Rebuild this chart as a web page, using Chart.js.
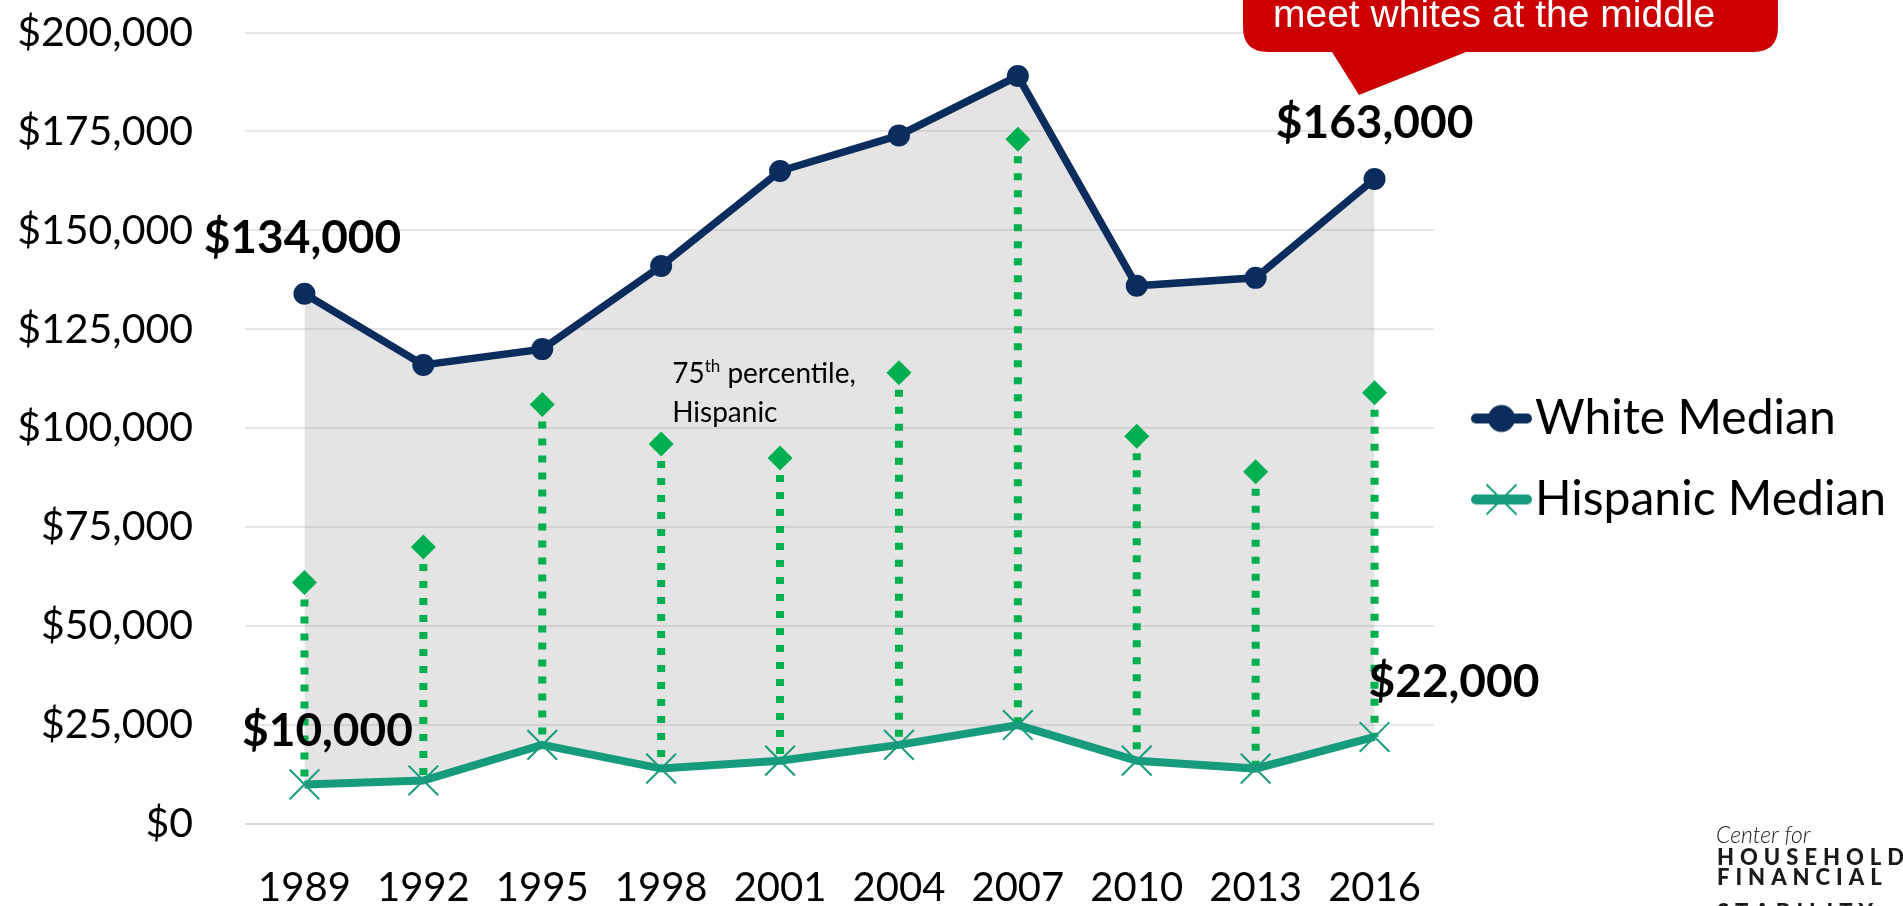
<!DOCTYPE html>
<html>
<head>
<meta charset="utf-8">
<script src="https://cdn.jsdelivr.net/npm/chart.js@4.4.1/dist/chart.umd.min.js"></script>
<style>
html,body{margin:0;padding:0;background:#fff;overflow:hidden}
#wrap{position:relative;width:1903px;height:906px}
canvas{display:block}
</style>
</head>
<body>
<div id="wrap"><canvas id="c" width="1903" height="906"></canvas></div>
<script>
// ---- data ----
const years = ['1989','1992','1995','1998','2001','2004','2007','2010','2013','2016'];
const whiteMedian    = [134000,116000,120000,141000,165000,174000,189000,136000,138000,163000];
const hispanicMedian = [10000,11000,20000,14000,16000,20000,25000,16000,14000,22000];
const hispanic75th   = [61000,70000,106000,96000,92500,114000,173000,98000,89000,109000];
const seriesNames = ['White Median','Hispanic Median','75th percentile, Hispanic'];
const yMin = 0, yMax = 200000, yStep = 25000;
const calloutText = 'meet whites at the middle';
const logoLines = ['Center for','HOUSEHOLD','FINANCIAL','STABILITY'];

// ---- style ----
const NAVY = '#0B2D5E', TEAL = '#179B7D', GREEN = '#00B050', RED = '#CC0000';
const fmt = v => '$' + v.toLocaleString('en-US');

// legend geometry
const PLOT_RIGHT = 1434;
const LEG_FONT = 48, LEG_PAD = 33, LEG_PSW = 44;
const legendX = PLOT_RIGHT + LEG_PAD;
const iconCenter = legendX + LEG_PSW / 2;
const ICON_W = 2 * (1532 - iconCenter), ICON_H = 48;

function makeIcon(kind){
  const c = document.createElement('canvas');
  c.width = Math.ceil(ICON_W); c.height = ICON_H;
  const g = c.getContext('2d');
  const left = iconCenter - c.width / 2;
  const cy = ICON_H / 2;
  const x0 = 1476 - left, x1 = 1527 - left, mx = 1501.5 - left;
  g.lineCap = 'round';
  g.lineWidth = 10;
  g.strokeStyle = kind === 0 ? NAVY : TEAL;
  g.beginPath(); g.moveTo(x0, cy); g.lineTo(x1, cy); g.stroke();
  if (kind === 0){
    g.fillStyle = NAVY; g.beginPath(); g.arc(mx, cy, 13.5, 0, Math.PI*2); g.fill();
  } else {
    g.lineWidth = 2; g.lineCap = 'butt';
    g.beginPath(); g.moveTo(mx-15, cy-15); g.lineTo(mx+15, cy+15); g.moveTo(mx-15, cy+15); g.lineTo(mx+15, cy-15); g.stroke();
  }
  return c;
}
const icons = [makeIcon(0), makeIcon(1)];

const mctx = document.createElement('canvas').getContext('2d');
mctx.font = 'normal ' + LEG_FONT + 'px Lato';
const maxLegW = Math.max(mctx.measureText(seriesNames[0]).width, mctx.measureText(seriesNames[1]).width);
const legendWidth = LEG_PAD + LEG_PSW + LEG_FONT/2 + maxLegW + 10;
const rightPad = Math.max(0, 1903 - PLOT_RIGHT - legendWidth);

const stems = {
  id: 'stems',
  beforeDatasetsDraw(chart){
    const {ctx, scales:{x, y}} = chart;
    ctx.save();
    ctx.strokeStyle = GREEN; ctx.lineWidth = 8; ctx.lineCap = 'butt';
    ctx.setLineDash([7, 10]);
    years.forEach((yr, i) => {
      const px = x.getPixelForValue(i);
      ctx.beginPath();
      ctx.moveTo(px, y.getPixelForValue(hispanic75th[i]));
      ctx.lineTo(px, y.getPixelForValue(hispanicMedian[i]));
      ctx.stroke();
    });
    ctx.restore();
  }
};

const annotations = {
  id: 'annotations',
  afterDatasetsDraw(chart){
    const {ctx, scales:{x, y}} = chart;
    const wPts = chart.getDatasetMeta(0).data, hPts = chart.getDatasetMeta(1).data;
    const last = years.length - 1;
    ctx.save();
    ctx.fillStyle = '#000';
    ctx.font = 'bold 46px Lato';
    ctx.textBaseline = 'alphabetic';
    ctx.textAlign = 'center';
    ctx.fillText(fmt(whiteMedian[0]), wPts[0].x - 2, wPts[0].y - 41);
    ctx.fillText(fmt(whiteMedian[last]), wPts[last].x, wPts[last].y - 41);
    ctx.fillText(fmt(hispanicMedian[0]), hPts[0].x + 23, hPts[0].y - 38);
    ctx.textAlign = 'left';
    ctx.fillText(fmt(hispanicMedian[last]), hPts[last].x - 6, hPts[last].y - 40);

    // 75th percentile note
    const ax = x.getPixelForValue(3) + 11;
    const ay = y.getPixelForValue(hispanic75th[3]);
    let cx = ax;
    ctx.font = 'normal 28px Lato';
    ctx.fillText('75', cx, ay - 61); cx += ctx.measureText('75').width;
    ctx.font = 'normal 17px Lato';
    ctx.fillText('th', cx, ay - 72); cx += ctx.measureText('th').width;
    ctx.font = 'normal 28px Lato';
    ctx.fillText(' percentile,', cx, ay - 61);
    ctx.fillText('Hispanic', ax, ay - 22);
    ctx.restore();
  },
  afterDraw(chart){
    const ctx = chart.ctx;
    ctx.save();
    // callout bubble
    ctx.fillStyle = RED;
    const L = 1243, R = 1778, T = -60, B = 52, r = 25;
    ctx.beginPath();
    ctx.moveTo(L + r, T);
    ctx.lineTo(R - r, T); ctx.quadraticCurveTo(R, T, R, T + r);
    ctx.lineTo(R, B - r); ctx.quadraticCurveTo(R, B, R - r, B);
    ctx.lineTo(1466, B); ctx.lineTo(1359, 95); ctx.lineTo(1332, B);
    ctx.lineTo(L + r, B); ctx.quadraticCurveTo(L, B, L, B - r);
    ctx.lineTo(L, T + r); ctx.quadraticCurveTo(L, T, L + r, T);
    ctx.closePath(); ctx.fill();
    ctx.fillStyle = '#fff';
    ctx.font = 'normal 39px "Liberation Sans", Arial, sans-serif';
    ctx.textAlign = 'left'; ctx.textBaseline = 'alphabetic';
    ctx.fillText(calloutText, 1273, 27);

    // logo
    ctx.fillStyle = '#1a1a1a';
    ctx.font = 'italic 300 23px Lato';
    ctx.fillText(logoLines[0], 1716, 843);
    ctx.font = '900 22px Lato';
    const spaced = (s, x0, yb) => { let xx = x0; for (const ch of s){ ctx.fillText(ch, xx, yb); xx += ctx.measureText(ch).width + 6; } };
    spaced(logoLines[1], 1717, 865);
    spaced(logoLines[2], 1717, 885);
    spaced(logoLines[3], 1717, 920);
    ctx.restore();
  }
};

const chart = new Chart(document.getElementById('c'), {
  type: 'line',
  data: {
    labels: years,
    datasets: [
      {
        label: seriesNames[0], data: whiteMedian,
        borderColor: NAVY, borderWidth: 7.5, tension: 0,
        backgroundColor: 'rgba(150,150,150,0.26)',
        fill: '+1',
        pointStyle: 'circle', pointRadius: 11, pointBackgroundColor: NAVY, pointBorderColor: NAVY, pointBorderWidth: 0
      },
      {
        label: seriesNames[1], data: hispanicMedian,
        borderColor: TEAL, borderWidth: 8, tension: 0, fill: false,
        pointStyle: 'crossRot', pointRadius: 21, pointBorderColor: TEAL, pointBorderWidth: 2, pointBackgroundColor: TEAL
      },
      {
        label: seriesNames[2], data: hispanic75th,
        showLine: false, fill: false, borderColor: GREEN, backgroundColor: GREEN,
        pointStyle: 'rectRot', pointRadius: 12.5, pointBackgroundColor: GREEN, pointBorderWidth: 0
      }
    ]
  },
  options: {
    responsive: false, animation: false, devicePixelRatio: 1,
    events: [],
    layout: { padding: { top: 12, left: 0, right: rightPad, bottom: 0 } },
    plugins: {
      filler: { drawTime: 'beforeDatasetsDraw', propagate: false },
      tooltip: { enabled: false },
      legend: {
        position: 'right', align: 'center', maxWidth: 700,
        labels: {
          usePointStyle: true, pointStyleWidth: LEG_PSW, padding: LEG_PAD,
          color: '#000', font: { family: 'Lato', size: LEG_FONT },
          generateLabels(ch){
            return [0, 1].map(i => ({
              text: ch.data.datasets[i].label, pointStyle: icons[i],
              fillStyle: ch.data.datasets[i].borderColor, strokeStyle: ch.data.datasets[i].borderColor,
              lineWidth: 0, hidden: false, datasetIndex: i, fontColor: '#000'
            }));
          }
        }
      }
    },
    scales: {
      x: {
        offset: true,
        grid: { display: false }, border: { display: false },
        ticks: { color: '#000', font: { family: 'Lato', size: 40, lineHeight: 1 }, padding: 36, maxRotation: 0, autoSkip: false },
        afterFit(s){ s.height = 82; }
      },
      y: {
        min: yMin, max: yMax,
        border: { display: false },
        grid: { color: c => (c.tick && c.tick.value === 0) ? '#D9D9D9' : '#E6E6E6', lineWidth: 2,
                drawTicks: true, tickLength: 40, tickColor: 'rgba(0,0,0,0)' },
        ticks: { stepSize: yStep, color: '#000', font: { family: 'Lato', size: 41, lineHeight: 1 }, padding: 12, callback: v => fmt(v) },
        afterFit(s){ s.width = 245; }
      }
    }
  },
  plugins: [stems, annotations]
});
</script>
</body>
</html>
